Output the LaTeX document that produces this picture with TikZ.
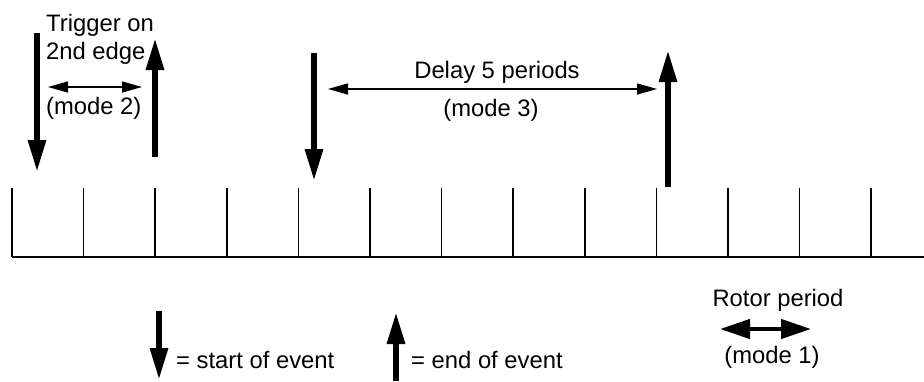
\documentclass[tikz,border=0pt]{standalone}
\usepackage{fontspec}
\setmainfont{Liberation Sans}
\usetikzlibrary{arrows.meta}
\begin{document}
\begin{tikzpicture}[x=1pt,y=-1pt,
  evarrow/.style={line width=6pt,-{Triangle[length=32pt,width=17pt]}},
  thinspan/.style={line width=1.5pt,{Triangle[length=20pt,width=11pt]}-{Triangle[length=20pt,width=11pt]}},
  thickspan/.style={line width=4.5pt,{Triangle[length=30pt,width=19pt]}-{Triangle[length=30pt,width=19pt]}},
  lbl/.style={font=\fontsize{23.8}{28}\selectfont,inner sep=0pt},
  tick/.style={line width=1.5pt}]
\useasboundingbox (0,0) rectangle (924,381);
% baseline and ticks
\coordinate (b0) at (12,257);
\coordinate (b1) at (924,257);
\draw[line width=2.2pt] (b0) -- (b1);
\foreach \i in {0,...,12}{
  \coordinate (t\i) at ({12+\i*71.6},188);
  \coordinate (u\i) at ({12+\i*71.6},257);
  \draw[tick] (t\i) -- (u\i);
}
% event arrows
\coordinate (a1s) at (37,33);  \coordinate (a1e) at (37,172);
\coordinate (a2s) at (155,157); \coordinate (a2e) at (155,38);
\coordinate (a3s) at (314,53); \coordinate (a3e) at (314,181);
\coordinate (a4s) at (668,187); \coordinate (a4e) at (668,50);
\draw[evarrow] (a1s) -- (a1e);
\draw[evarrow] (a2s) -- (a2e);
\draw[evarrow] (a3s) -- (a3e);
\draw[evarrow] (a4s) -- (a4e);
% mode 2
\node[lbl,anchor=west] (trig) at (46,25) {Trigger on};
\node[lbl,anchor=west] (edge) at (46,53) {2nd edge};
\coordinate (m2a) at (48,87); \coordinate (m2b) at (142,87);
\draw[thinspan] (m2a) -- (m2b);
\node[lbl,anchor=west] (mode2) at (46,108) {(mode 2)};
% mode 3
\node[lbl] (delay) at (497,72) {Delay 5 periods};
\coordinate (m3a) at (328,89); \coordinate (m3b) at (657,89);
\draw[thinspan] (m3a) -- (m3b);
\node[lbl] (mode3) at (491,110) {(mode 3)};
% legend
\coordinate (l1s) at (159,311); \coordinate (l1e) at (159,380);
\draw[evarrow] (l1s) -- (l1e);
\node[lbl,anchor=west] (start) at (176,360) {= start of event};
\coordinate (l2s) at (396,381); \coordinate (l2e) at (396,312);
\draw[evarrow] (l2s) -- (l2e);
\node[lbl,anchor=west] (endev) at (411,360) {= end of event};
% rotor period
\node[lbl] (rotor) at (778,300) {Rotor period};
\coordinate (m1a) at (720,329); \coordinate (m1b) at (811,329);
\draw[thickspan] (m1a) -- (m1b);
\node[lbl] (mode1) at (772,357) {(mode 1)};
\end{tikzpicture}
\end{document}
